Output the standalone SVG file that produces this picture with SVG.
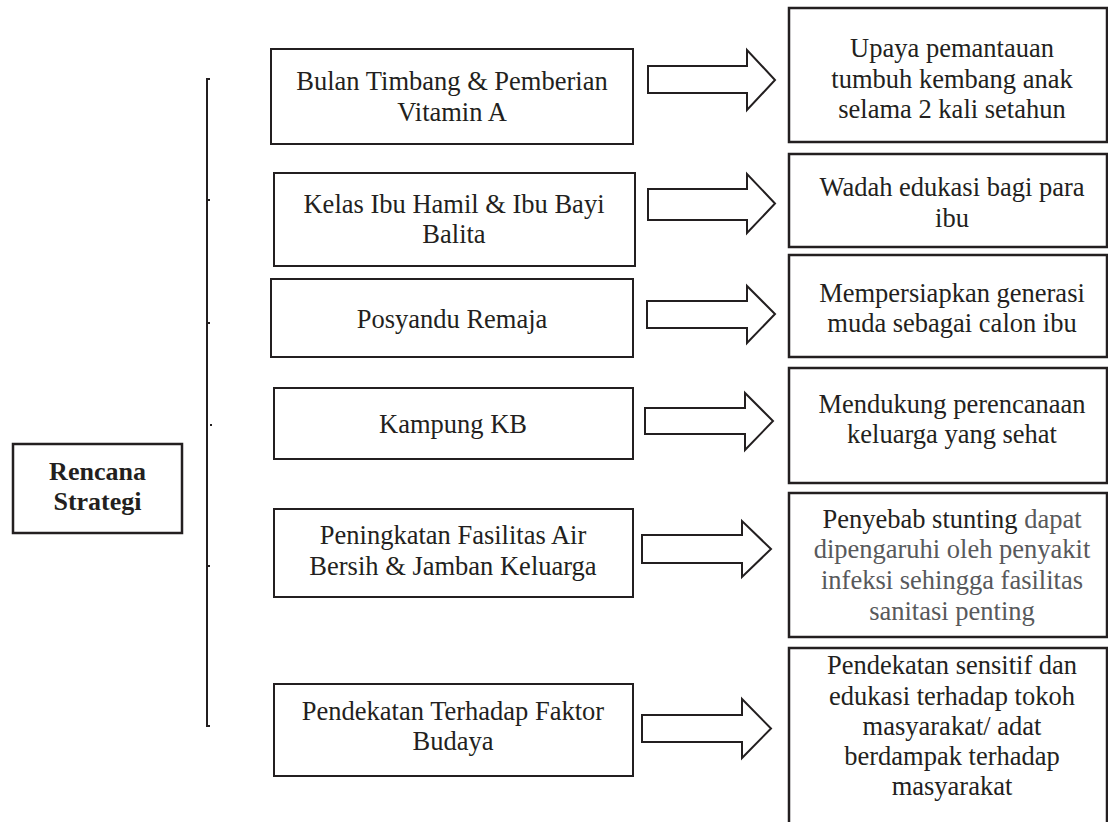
<svg xmlns="http://www.w3.org/2000/svg" width="1108" height="822" viewBox="0 0 1108 822">
<style>
.box{fill:#fff;stroke:#231f20;stroke-width:2}
.rbox{fill:#fff;stroke:#231f20;stroke-width:2.5}
.t{font-family:"Liberation Serif","Times New Roman",serif;font-size:26.5px;fill:#231f20;text-anchor:middle}
.b{font-weight:bold;font-size:26px}
.g{fill:#58595b}
.arr{fill:#fff;stroke:#231f20;stroke-width:2;stroke-linejoin:miter}
.br{fill:none;stroke:#231f20;stroke-width:2}
</style>
<rect width="1108" height="822" fill="#fff"/>
<g id="connectors">
<path class="br" d="M210,79 H207 V726 H210"/>
<path class="br" d="M207,200 H210 M207,323 H210 M207,566 H210 M210,425 H212"/>
<polygon class="arr" points="648,66 747,66 747,50 775,80 747,110 747,93 648,93"/>
<polygon class="arr" points="648,189 747,189 747,174 775,203.5 747,233 747,220 648,220"/>
<polygon class="arr" points="647,301 747,301 747,286 775,314 747,343 747,328 647,328"/>
<polygon class="arr" points="645,408 745,408 745,393 773,421 745,450 745,434 645,434"/>
<polygon class="arr" points="642,535 742,535 742,521 771,549 742,577 742,563 642,563"/>
<polygon class="arr" points="642,715 742,715 742,699 771,728.5 742,758 742,742 642,742"/>
</g>
<g id="rencana">
<rect class="rbox" x="13" y="444" width="169" height="89"/>
<text class="t b" x="97.5" y="480">Rencana</text>
<text class="t b" x="97.5" y="510">Strategi</text>
</g>
<g id="n1">
<rect class="box" x="271" y="49" width="362" height="95"/>
<text class="t" x="452" y="90">Bulan Timbang &amp; Pemberian</text>
<text class="t" x="452" y="121">Vitamin A</text>
</g>
<g id="n2">
<rect class="box" x="274" y="173" width="361" height="93"/>
<text class="t" x="454" y="213">Kelas Ibu Hamil &amp; Ibu Bayi</text>
<text class="t" x="454" y="243">Balita</text>
</g>
<g id="n3">
<rect class="box" x="271" y="279" width="362" height="78"/>
<text class="t" x="452" y="328">Posyandu Remaja</text>
</g>
<g id="n4">
<rect class="box" x="274" y="388" width="359" height="71"/>
<text class="t" x="453" y="433">Kampung KB</text>
</g>
<g id="n5">
<rect class="box" x="274" y="509" width="359" height="88"/>
<text class="t" x="453" y="544">Peningkatan Fasilitas Air</text>
<text class="t" x="453" y="575">Bersih &amp; Jamban Keluarga</text>
</g>
<g id="n6">
<rect class="box" x="274" y="684" width="359" height="92"/>
<text class="t" x="453" y="720">Pendekatan Terhadap Faktor</text>
<text class="t" x="453" y="750">Budaya</text>
</g>
<g id="r1">
<rect class="rbox" x="789" y="8" width="318" height="134"/>
<text class="t" x="952" y="57">Upaya pemantauan</text>
<text class="t" x="952" y="88">tumbuh kembang anak</text>
<text class="t" x="952" y="118">selama 2 kali setahun</text>
</g>
<g id="r2">
<rect class="rbox" x="789" y="154" width="318" height="93"/>
<text class="t" x="952" y="196">Wadah edukasi bagi para</text>
<text class="t" x="952" y="227">ibu</text>
</g>
<g id="r3">
<rect class="rbox" x="789" y="255" width="318" height="102"/>
<text class="t" x="952" y="302">Mempersiapkan generasi</text>
<text class="t" x="952" y="332">muda sebagai calon ibu</text>
</g>
<g id="r4">
<rect class="rbox" x="789" y="368" width="318" height="115"/>
<text class="t" x="952" y="413">Mendukung perencanaan</text>
<text class="t" x="952" y="443">keluarga yang sehat</text>
</g>
<g id="r5">
<rect class="rbox" x="789" y="493" width="318" height="144"/>
<text class="t" x="952" y="528">Penyebab stunting <tspan class="g">dapat</tspan></text>
<text class="t g" x="952" y="558">dipengaruhi oleh penyakit</text>
<text class="t g" x="952" y="589">infeksi sehingga fasilitas</text>
<text class="t g" x="952" y="620">sanitasi penting</text>
</g>
<g id="r6">
<rect class="rbox" x="789" y="648" width="318" height="190"/>
<text class="t" x="952" y="674">Pendekatan sensitif dan</text>
<text class="t" x="952" y="705">edukasi terhadap tokoh</text>
<text class="t" x="952" y="735">masyarakat/ adat</text>
<text class="t" x="952" y="765">berdampak terhadap</text>
<text class="t" x="952" y="795">masyarakat</text>
</g>
</svg>
